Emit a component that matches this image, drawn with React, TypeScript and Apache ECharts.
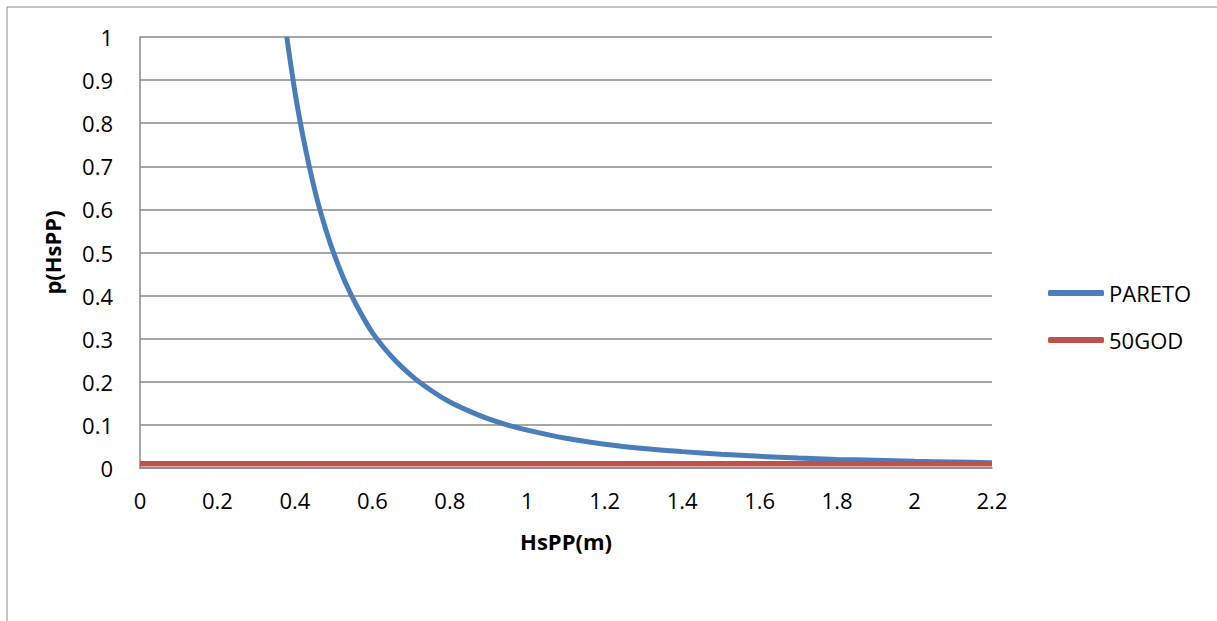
import React, { useEffect, useRef } from "react";
import * as echarts from "echarts";

const paretoX = [0.379, 0.4, 0.42, 0.44, 0.46, 0.48, 0.5, 0.53, 0.56, 0.6, 0.65, 0.7, 0.75, 0.8, 0.85, 0.9, 0.95, 1.0, 1.1, 1.2, 1.3, 1.4, 1.5, 1.6, 1.7, 1.8, 1.9, 2.0, 2.1, 2.2];
const paretoY = [1, 0.873, 0.773, 0.688, 0.614, 0.553, 0.499, 0.431, 0.376, 0.314, 0.258, 0.215, 0.181, 0.153, 0.132, 0.114, 0.0997, 0.088, 0.069, 0.055, 0.045, 0.038, 0.032, 0.027, 0.023, 0.02, 0.018, 0.0155, 0.014, 0.012];
const godX = [0, 2.2];
const godY = [0.01, 0.01];
const seriesNames = ["PARETO", "50GOD"];
const xTitle = "HsPP(m)";
const yTitle = "p(HsPP)";

const FONT = "'Open Sans', 'Liberation Sans', sans-serif";

export default function App() {
  const ref = useRef<HTMLDivElement>(null);
  useEffect(() => {
    if (!ref.current) return;
    const chart = echarts.init(ref.current, null, { renderer: "svg" });
    const gridColor = "#898989";
    chart.setOption({
      animation: false,
      backgroundColor: "#ffffff",
      textStyle: { fontFamily: FONT },
      graphic: [
        {
          type: "rect",
          shape: { x: 7, y: 7, width: 1240, height: 700 },
          style: { fill: "none", stroke: "#8a8a8a", lineWidth: 1 },
          silent: true,
        },
      ],
      grid: { left: 140, right: 225, top: 37, bottom: 153, containLabel: false },
      legend: {
        orient: "vertical",
        left: 1043,
        top: 277,
        itemWidth: 56,
        itemHeight: 6,
        itemGap: 25,
        icon: "roundRect",
        textStyle: { fontFamily: FONT, fontSize: 22, color: "#000" },
        data: seriesNames,
      },
      xAxis: {
        type: "value",
        min: 0,
        max: 2.2,
        interval: 0.2,
        name: xTitle,
        nameLocation: "middle",
        nameGap: 62,
        nameTextStyle: { fontFamily: FONT, fontSize: 22, fontWeight: "bold", color: "#000" },
        axisLine: { show: true, lineStyle: { color: gridColor, width: 1.5 } },
        axisTick: { show: false },
        splitLine: { show: false },
        axisLabel: { fontFamily: FONT, fontSize: 22, color: "#000", margin: 21 },
      },
      yAxis: {
        type: "value",
        min: 0,
        max: 1,
        interval: 0.1,
        name: yTitle,
        nameLocation: "middle",
        nameGap: 77,
        nameRotate: 90,
        nameTextStyle: { fontFamily: FONT, fontSize: 22, fontWeight: "bold", color: "#000" },
        axisLine: { show: true, lineStyle: { color: gridColor, width: 1.5 } },
        axisTick: { show: false },
        splitLine: { show: true, lineStyle: { color: gridColor, width: 1.5 } },
        axisLabel: { fontFamily: FONT, fontSize: 22, color: "#000", margin: 27 },
      },
      series: [
        {
          name: seriesNames[0],
          type: "line",
          data: paretoX.map((x, i) => [x, paretoY[i]]),
          showSymbol: false,
          symbol: "none",
          smooth: 0.3,
          lineStyle: { color: "#4a7ebb", width: 5 },
          itemStyle: { color: "#4a7ebb" },
          z: 2,
        },
        {
          name: seriesNames[1],
          type: "line",
          data: godX.map((x, i) => [x, godY[i]]),
          showSymbol: false,
          symbol: "none",
          lineStyle: { color: "#c0504d", width: 5.5 },
          itemStyle: { color: "#c0504d" },
          z: 3,
        },
      ],
    });
    return () => chart.dispose();
  }, []);
  return (
    <div
      ref={ref}
      style={{ position: "absolute", left: 0, top: 0, width: 1217, height: 621 }}
    />
  );
}
